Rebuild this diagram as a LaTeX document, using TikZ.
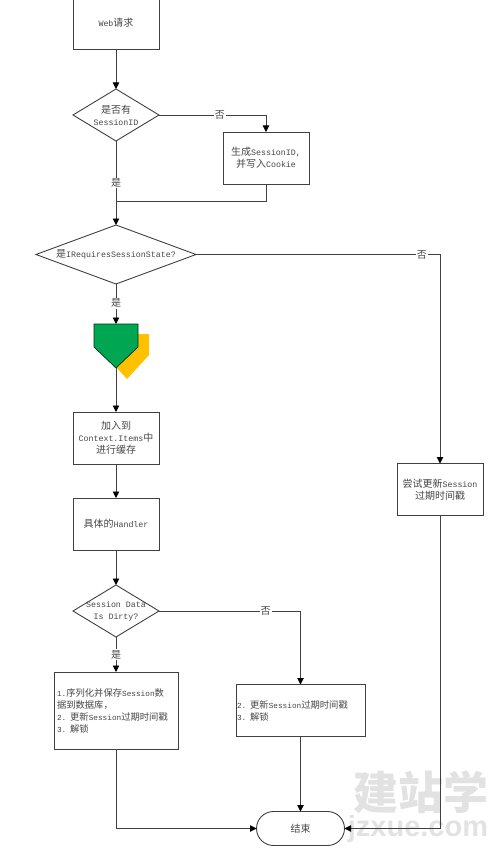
\documentclass[tikz,border=0pt]{standalone}
\usepackage{fontspec}
\setmainfont{Liberation Mono}
\newfontfamily\cjk{Noto Sans CJK SC}
\newfontfamily\wmfont{Liberation Sans}
\usepackage{xcolor}
\usetikzlibrary{shapes.geometric,shapes.misc,arrows.meta,positioning}
\definecolor{flowline}{RGB}{64,64,64}
\definecolor{flowtext}{RGB}{70,70,70}
\definecolor{stopgreen}{RGB}{0,166,81}
\definecolor{stopyellow}{RGB}{255,192,0}
\definecolor{wmgray}{RGB}{226,226,226}
\newcommand{\zh}[1]{{\cjk\fontsize{10}{12}\selectfont #1}}
\newcommand{\zhsm}[1]{{\cjk\fontsize{9.3}{12}\selectfont #1}}
\tikzset{
  fbox/.style={rectangle, draw=flowline, line width=0.9pt, outer sep=0pt, minimum width=86pt, minimum height=52pt, align=center, font=\fontsize{8.3}{12}\selectfont, text=flowtext, inner sep=2pt},
  fnote/.style={fbox, align=left, font=\fontsize{7.75}{12}\selectfont},
  fdia/.style={diamond, draw=flowline, line width=0.9pt, outer sep=0pt, minimum width=86pt, minimum height=52pt, inner sep=0pt},
  dtext/.style={align=center, font=\fontsize{8.3}{12}\selectfont, text=flowtext, inner sep=0pt},
  fend/.style={rounded rectangle, draw=flowline, line width=0.9pt, outer sep=0pt, minimum width=88pt, minimum height=34pt, font=\fontsize{8.3}{12}\selectfont, text=flowtext, inner sep=0pt},
  farrow/.style={-{Stealth[length=6.5pt,width=6.5pt,inset=0pt,color=black]}, line width=0.9pt, draw=flowline},
  fline/.style={line width=0.9pt, draw=flowline},
  flabel/.style={fill=white, inner sep=1pt, text=flowtext, font=\fontsize{8.3}{12}\selectfont}
}

\begin{document}
\begin{tikzpicture}
\useasboundingbox (0pt,0pt) rectangle (500pt,-848pt);
% watermark
\node[text=wmgray, inner sep=0pt, font=\cjk\bfseries\fontsize{45}{45}\selectfont] (wmzh) at (421pt,-792pt) {建站学};
\node[text=wmgray, inner sep=0pt, font=\wmfont\bfseries\fontsize{29}{29}\selectfont] (wmen) at (418pt,-829pt) {jzxue.com};
% main column
\node[fbox] (web) at (116pt,-23pt) {Web\zh{请求}};
\node[fdia, below=40pt of web, label={[dtext]center:\zh{是否有}\\SessionID}] (hasid) {};
\node[fbox, right=64pt of hasid, yshift=-43pt] (newid) {\zh{生成}SessionID,\\\zh{并写入}Cookie};
\node[fdia, below=84pt of hasid, minimum width=160pt, minimum height=59pt, label={[dtext]center:\zh{是}IRequiresSessionState?}] (isreq) {};
\node[minimum width=44pt, minimum height=44pt, inner sep=0pt, outer sep=0pt, below=40pt of isreq] (stopmark) {};
\node[fbox, below=44pt of stopmark] (cache) {\zh{加入到}\\Context.Items\zh{中}\\\zh{进行缓存}};
\node[fbox, below=34pt of cache] (handler) {\zh{具体的}Handler};
\node[fdia, below=35pt of handler, label={[dtext]center:Session Data\\Is Dirty?}] (dirty) {};
\node[fnote, below=35pt of dirty, minimum width=124pt, minimum height=77pt, text width=118pt, inner sep=3pt] (save) {1.\zhsm{序列化并保存}Session\zhsm{数}\\\zhsm{据到数据库，}\\2. \zhsm{更新}Session\zhsm{过期时间戳}\\3. \zhsm{解锁}};
\node[fnote, right=58pt of save, minimum width=129pt, text width=127pt, inner sep=1pt] (update) {2. \zhsm{更新}Session\zhsm{过期时间戳}\\3. \zhsm{解锁}};
\node[fend, below=75pt of update] (finish) {\zh{结束}};
\node[fbox, right=324pt of isreq.center, anchor=center, yshift=-235pt] (retry) {\zh{尝试更新}Session\\\zh{过期时间戳}};
\coordinate (merge) at (hasid |- 0pt,-201pt);
% shield
\fill[stopyellow] ([xshift=11pt,yshift=-10pt]stopmark.north west) -- ([xshift=11pt,yshift=-10pt]stopmark.north east) -- ([xshift=11pt,yshift=13pt]stopmark.south east) -- ([xshift=11pt,yshift=-11pt]stopmark.south) -- ([xshift=11pt,yshift=13pt]stopmark.south west) -- cycle;
\draw[fill=stopgreen, draw=black!70!stopgreen, line width=0.7pt] (stopmark.north west) -- (stopmark.north east) -- ([yshift=21pt]stopmark.south east) -- (stopmark.south) -- ([yshift=21pt]stopmark.south west) -- cycle;
% connectors
\draw[farrow] (web) -- (hasid);
\draw[farrow] (hasid) -| node[flabel, pos=0.285] {\zh{否}} (newid);
\draw[fline] (newid) |- (merge);
\draw[farrow] (hasid) -- node[flabel, pos=0.5] {\zh{是}} (isreq);
\draw[farrow] (isreq) -- node[flabel, pos=0.48] {\zh{是}} (stopmark);
\draw[farrow] (stopmark) -- (cache);
\draw[farrow] (isreq) -| node[flabel, pos=0.463] {\zh{否}} (retry);
\draw[farrow] (cache) -- (handler);
\draw[farrow] (handler) -- (dirty);
\draw[farrow] (dirty) -- node[flabel] {\zh{是}} (save);
\draw[farrow] (dirty) -| node[flabel, pos=0.377] {\zh{否}} (update);
\draw[farrow] (update) -- (finish);
\draw[farrow] (save) |- (finish);
\draw[farrow] (retry) |- (finish);
\end{tikzpicture}
\end{document}
